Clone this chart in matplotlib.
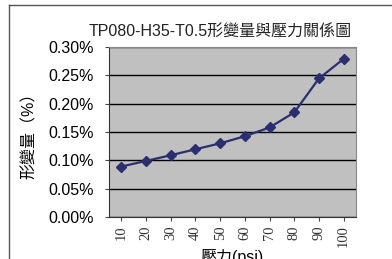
import numpy as np
import matplotlib
matplotlib.use('Agg')
import matplotlib.pyplot as plt
from matplotlib.ticker import FuncFormatter

# pressure (psi) vs. deformation (%)
pressure = ['10', '20', '30', '40', '50', '60', '70', '80', '90', '100']
deform = [0.089, 0.099, 0.109, 0.1195, 0.130, 0.1425, 0.158, 0.1845, 0.2445, 0.279]
yticks = [0.0, 0.05, 0.10, 0.15, 0.20, 0.25, 0.30]

sans = ['Liberation Sans', 'Noto Sans CJK TC', 'DejaVu Sans']
serif = ['Liberation Serif', 'DejaVu Serif']

fig = plt.figure(figsize=(3.92, 2.59), dpi=100)
ax = fig.add_axes([109/392, 1 - 217/259, (356-109)/392, (217-47)/259])

# outer frame of the chart box (top and left edges only visible)
fig.add_artist(plt.Line2D([9/392, 1], [1 - 5/259, 1 - 5/259], color='#555555', lw=1.0))
fig.add_artist(plt.Line2D([9/392, 9/392], [0, 1 - 5/259], color='#555555', lw=1.0))

x = np.arange(len(pressure))
ax.set_facecolor('#c0c0c0')
ax.plot(x, deform, color='#2b2f6f', lw=1.6, marker='D', ms=5.5, mfc='#2b2f6f', mec='#2b2f6f')

ax.set_xlim(-0.5, len(pressure) - 0.5)
ax.set_ylim(0, 0.30)
ax.set_yticks(yticks)
ax.yaxis.set_major_formatter(FuncFormatter(lambda v, p: '%.2f%%' % v))
ax.grid(axis='y', color='black', lw=1.0)
ax.set_axisbelow(True)

ax.set_xticks(x)
ax.set_xticklabels(pressure, rotation=90, family=serif, fontsize=10.5, color='#333333')
for lab in ax.get_yticklabels():
    lab.set_family(sans)
    lab.set_fontsize(11.5)

ax.tick_params(axis='y', length=3, pad=8, color='#444444')
ax.tick_params(axis='x', length=3, pad=3, color='#444444')
for s in ['top', 'right']:
    ax.spines[s].set_color('#888888')
for s in ['left', 'bottom']:
    ax.spines[s].set_color('#333333')

ax.set_title('TP080-H35-T0.5形變量與壓力關係圖', family=sans, fontsize=11.5,
             color='#222222', pad=7, x=0.45)
ax.set_ylabel('形變量（%）', family=sans, fontsize=11.5, labelpad=8)
ax.set_xlabel('壓力(psi)', family=sans, fontsize=11.5, labelpad=1)

fig.savefig('out.png', dpi=100)
